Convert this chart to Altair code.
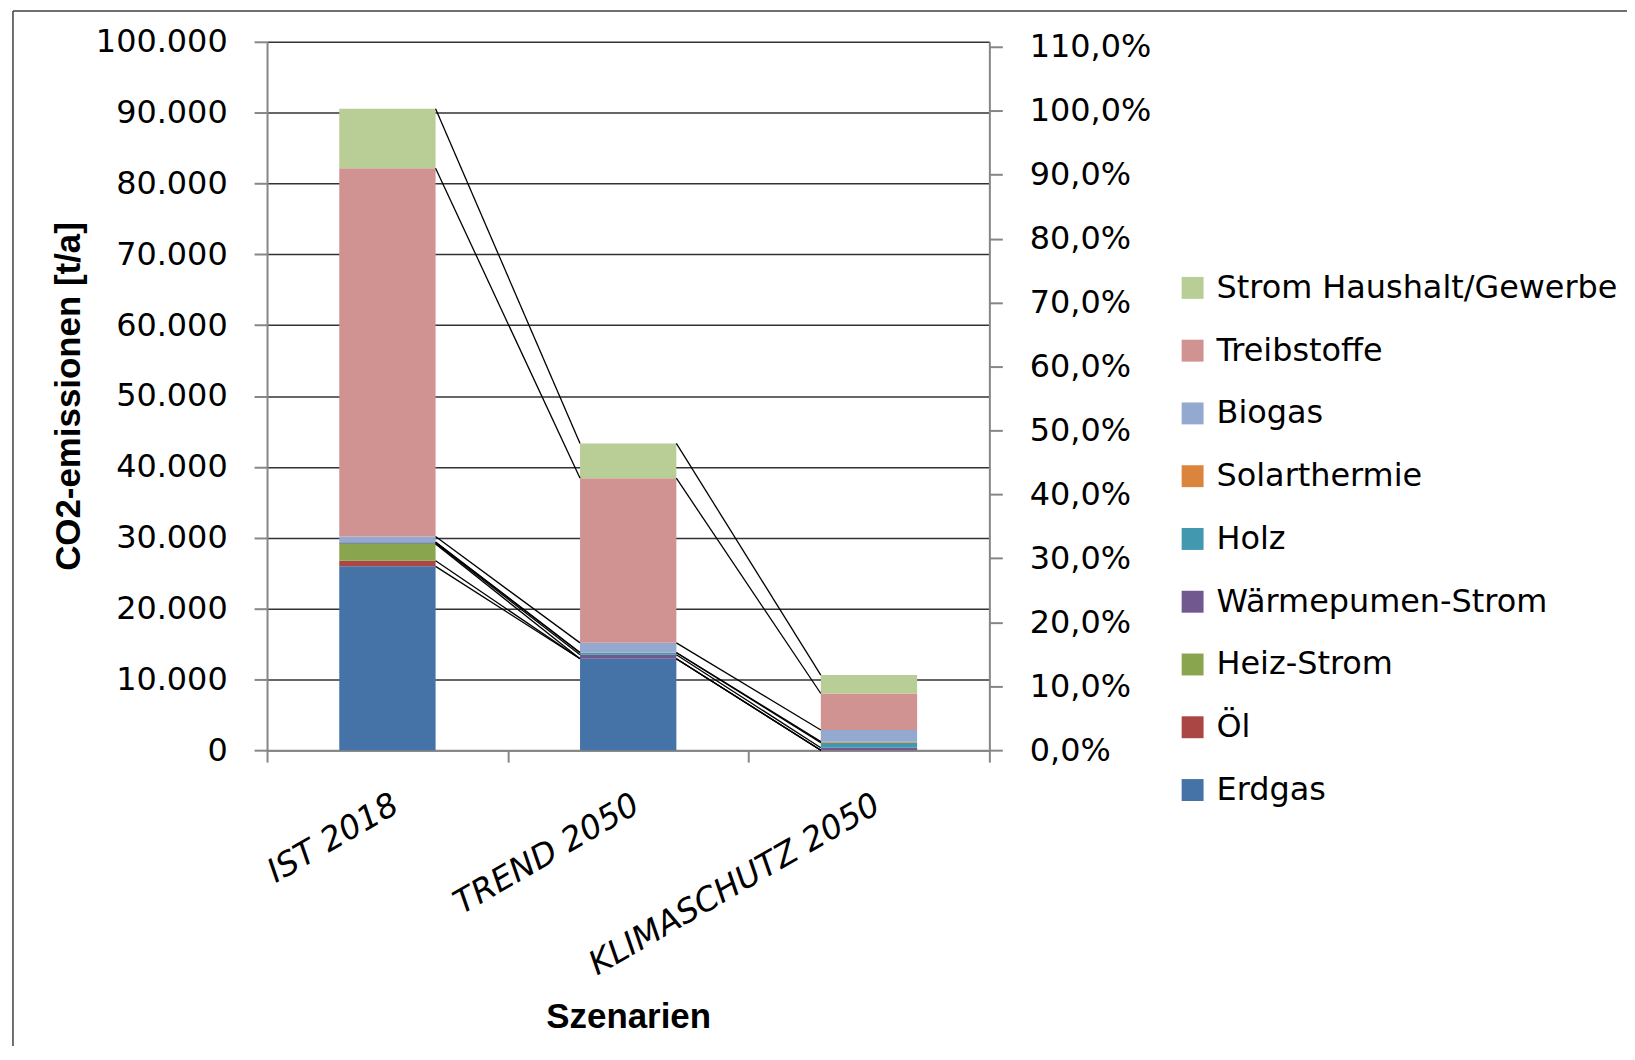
import altair as alt
import pandas as pd

# ---- data ----
scenarios = ["IST 2018", "TREND 2050", "KLIMASCHUTZ 2050"]
series = ["Erdgas", "Öl", "Heiz-Strom", "Wärmepumen-Strom", "Holz",
          "Solarthermie", "Biogas", "Treibstoffe", "Strom Haushalt/Gewerbe"]
colors = ["#4572A7", "#AA4643", "#89A54E", "#71588F", "#4198AF",
          "#DB843D", "#93A9CF", "#D19392", "#B9CD96"]

erdgas = [25950, 12900, 0]
oel = [800, 0, 0]
heiz_strom = [2350, 0, 0]
waermepumpe = [100, 560, 350]
holz = [150, 300, 700]
solarthermie = [50, 30, 150]
biogas = [750, 1360, 1650]
treibstoffe = [52000, 23240, 5150]
strom_hh = [8400, 4910, 2600]

values = [erdgas, oel, heiz_strom, waermepumpe, holz, solarthermie,
          biogas, treibstoffe, strom_hh]

left_ticks = [0, 10000, 20000, 30000, 40000, 50000, 60000, 70000, 80000, 90000, 100000]
right_ticks = [0.0, 0.1, 0.2, 0.3, 0.4, 0.5, 0.6, 0.7, 0.8, 0.9, 1.0, 1.1]
right_domain = [0.0, 1.108]

# ---- build tables ----
bar_rows = []
tops = {s: [] for s in series}
for i, sc in enumerate(scenarios):
    base = 0
    for s, v in zip(series, values):
        bar_rows.append({"scenario": sc, "x0": i - 0.2, "x1": i + 0.2,
                         "series": s, "y0": base, "y1": base + v[i]})
        base += v[i]
        tops[s].append(base)
bars_df = pd.DataFrame(bar_rows)

line_rows = []
for s in series:
    for i in range(len(scenarios) - 1):
        line_rows.append({"series": s, "xa": i + 0.2, "xb": i + 1 - 0.2,
                          "ya": tops[s][i], "yb": tops[s][i + 1]})
lines_df = pd.DataFrame(line_rows)

dummy_df = pd.DataFrame({"share": right_domain})

W, H = 725, 711
GRAY = "#868686"
FONT = "DejaVu Sans"
TFONT = "Liberation Sans"

legend_order = list(reversed(series))
legend_colors = list(reversed(colors))

label_expr = ("datum.value == 0 ? 'IST 2018' : datum.value == 1 ? 'TREND 2050' : "
              "datum.value == 2 ? 'KLIMASCHUTZ 2050' : ''")

x_scale = alt.Scale(domain=[-0.5, 2.5], nice=False, zero=False)
y_scale = alt.Scale(domain=[0, 100000], nice=False)

x_axis = alt.Axis(
    values=[-0.5, 0, 0.5, 1, 1.5, 2, 2.5],
    labelExpr=label_expr, labelAngle=-30, labelAlign="right", labelBaseline="top",
    labelFont=FONT, labelFontSize=33, labelFontStyle="italic", labelColor="black",
    labelPadding=26, labelOverlap=False, labelBound=False, labelFlush=False,
    labelLimit=1000,
    tickSize=12, tickColor=GRAY, tickWidth=2,
    tickOpacity={"condition": {"test": "floor(datum.value) === datum.value", "value": 0}, "value": 1},
    domainColor=GRAY, domainWidth=2, grid=False,
    title="Szenarien", titleFont=TFONT, titleFontSize=35, titleFontWeight="bold",
    titleColor="black", titleY=267, titleBaseline="middle", titleAnchor="middle",
)

y_axis = alt.Axis(
    values=left_ticks,
    labelExpr="replace(format(datum.value, ',d'), ',', '.')",
    labelFont=FONT, labelFontSize=32, labelColor="black", labelPadding=27,
    tickSize=13, tickColor=GRAY, tickWidth=2,
    domainColor=GRAY, domainWidth=2,
    grid=True, gridColor="#333333", gridWidth=1.5,
    title="CO2-emissionen [t/a]", titleFont=TFONT, titleFontSize=35,
    titleFontWeight="bold", titleColor="black", titleAngle=-90,
    titleX=-199, titleY=H / 2, titleAlign="center", titleBaseline="middle",
)

bars = alt.Chart(bars_df).mark_bar().encode(
    x=alt.X("x0:Q", scale=x_scale, axis=x_axis),
    x2="x1:Q",
    y=alt.Y("y0:Q", scale=y_scale, axis=y_axis),
    y2="y1:Q",
    color=alt.Color(
        "series:N",
        scale=alt.Scale(domain=legend_order, range=legend_colors),
        legend=alt.Legend(
            title=None, orient="none", legendX=913, legendY=231,
            symbolType="square", symbolSize=484, symbolStrokeWidth=0,
            labelFont=FONT, labelFontSize=32, labelColor="black",
            labelOffset=8, rowPadding=31, labelLimit=600, padding=0,
        ),
    ),
)

series_lines = alt.Chart(lines_df).mark_rule(color="black", strokeWidth=1.3).encode(
    x=alt.X("xa:Q", scale=x_scale),
    x2="xb:Q",
    y=alt.Y("ya:Q", scale=y_scale),
    y2="yb:Q",
)

main = alt.layer(bars, series_lines)

right = alt.Chart(dummy_df).mark_point(opacity=0).encode(
    y=alt.Y(
        "share:Q",
        scale=alt.Scale(domain=right_domain, nice=False),
        axis=alt.Axis(
            orient="right", values=right_ticks,
            labelExpr="replace(format(datum.value * 100, '.1f'), '.', ',') + '%'",
            labelFont=FONT, labelFontSize=32, labelColor="black", labelPadding=27,
            tickSize=13, tickColor=GRAY, tickWidth=2,
            domainColor=GRAY, domainWidth=2, grid=False, title=None,
        ),
    )
)

frame_df = pd.DataFrame({"f": [0]})
frame_left = alt.Chart(frame_df).mark_rule(color="#404040", strokeWidth=1.5).encode(
    x=alt.value(-255), y=alt.value(-31), y2=alt.value(1100)
)
frame_top = alt.Chart(frame_df).mark_rule(color="#404040", strokeWidth=1.5).encode(
    x=alt.value(-255), x2=alt.value(1500), y=alt.value(-31)
)

chart = alt.layer(main, right, frame_left, frame_top).resolve_scale(
    y="independent"
).properties(
    width=W, height=H,
    autosize=alt.AutoSizeParams(type="none"),
    padding={"left": 260, "top": 32, "right": 640, "bottom": 295},
).configure_view(stroke=None)

chart.save("out.html", embed_options={"renderer": "svg", "actions": False})
